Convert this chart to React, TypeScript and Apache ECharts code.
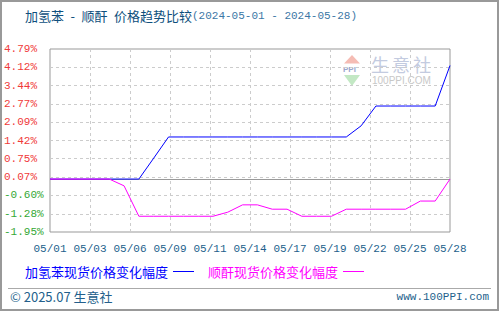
import React, { useEffect, useRef } from "react";
import * as echarts from "echarts";

const dates = [
  "05/01", "05/02", "05/03", "05/04", "05/05", "05/06", "05/07", "05/08", "05/09", "05/10",
  "05/11", "05/12", "05/13", "05/14", "05/15", "05/16", "05/17", "05/18", "05/19", "05/20",
  "05/21", "05/22", "05/23", "05/24", "05/25", "05/26", "05/27", "05/28",
];
const benzeneChange = [
  0, 0, 0, 0, 0, 0, 0, 0.77, 1.55, 1.55,
  1.55, 1.55, 1.55, 1.55, 1.55, 1.55, 1.55, 1.55, 1.55, 1.55,
  1.55, 1.96, 2.69, 2.69, 2.69, 2.69, 2.69, 4.18,
];
const anhydrideChange = [
  0, 0, 0, 0, 0, -0.25, -1.37, -1.37, -1.37, -1.37,
  -1.37, -1.37, -1.22, -0.95, -0.95, -1.11, -1.11, -1.37, -1.37, -1.37,
  -1.11, -1.11, -1.11, -1.11, -1.11, -0.81, -0.81, 0,
];
const yTicks = [-1.95, -1.28, -0.6, 0.07, 0.75, 1.42, 2.09, 2.77, 3.44, 4.12, 4.79];
const xTickLabels = ["05/01", "05/03", "05/06", "05/09", "05/11", "05/14", "05/17", "05/19", "05/22", "05/25", "05/28"];
const seriesNames = ["加氢苯现货价格变化幅度", "顺酐现货价格变化幅度"];
const seriesColors = ["#0000ff", "#ff00ff"];
const watermarkChars = ["生", "意", "社"];

const CJK = '"Noto Sans CJK SC", sans-serif';
const MONO = '"Liberation Mono", "DejaVu Sans Mono", monospace';
const TEXT_BLUE = "#235f8c";

export default function App() {
  const ref = useRef<HTMLDivElement>(null);
  useEffect(() => {
    if (!ref.current) return;
    const chart = echarts.init(ref.current, null, { renderer: "svg" });
    const xStep = (dates.length - 1) / (xTickLabels.length - 1);
    const mk = (vals: number[]) => vals.map((v, i) => [i, v]);
    chart.setOption({
      animation: false,
      backgroundColor: "#ffffff",
      title: {
        text: "{a|加氢苯\u2002-\u2002顺酐\u2002价格趋势比较}{b|(2024-05-01 - 2024-05-28)}",
        left: 25,
        top: 9,
        padding: 0,
        textStyle: {
          fontWeight: "normal",
          rich: {
            a: { fontFamily: CJK, fontSize: 13, fontWeight: "normal", color: "#0e4f7d" },
            b: { fontFamily: MONO, fontSize: 11, fontWeight: "normal", color: "#3b77a6" },
          },
        },
      },
      grid: {
        left: 50,
        right: 50,
        top: 49,
        bottom: 80,
        show: true,
        borderColor: "#999999",
        borderWidth: 1,
        backgroundColor: "transparent",
      },
      legend: {
        left: 25,
        top: 265,
        padding: 0,
        align: "right",
        icon: "rect",
        itemWidth: 21,
        itemHeight: 1,
        itemGap: 14,
        data: seriesNames.map((n, i) => ({
          name: n,
          textStyle: { color: seriesColors[i], fontFamily: CJK, fontSize: 13 },
        })),
      },
      xAxis: {
        type: "value",
        min: 0,
        max: dates.length - 1,
        interval: xStep,
        axisLine: { show: false },
        axisTick: { show: false },
        axisLabel: {
          margin: 11,
          color: TEXT_BLUE,
          fontFamily: MONO,
          fontSize: 11,
          showMinLabel: true,
          showMaxLabel: true,
          formatter: (v: number) => xTickLabels[Math.round(v / xStep)] ?? "",
        },
        splitLine: {
          show: true,
          showMinLine: false,
          showMaxLine: false,
          lineStyle: { color: "#cccccc", type: [3, 3], width: 1 },
        },
      },
      yAxis: {
        type: "value",
        min: yTicks[0],
        max: yTicks[yTicks.length - 1],
        axisLine: { show: false },
        axisTick: { show: false, customValues: yTicks },
        axisLabel: {
          customValues: yTicks,
          align: "left",
          margin: 46,
          fontFamily: MONO,
          fontSize: 11,
          formatter: (v: number) => v.toFixed(2) + "%",
          color: (v: any) => (Number(v) >= 0 ? "#f03a3a" : "#35a835"),
        },
        splitLine: {
          show: true,
          showMinLine: false,
          showMaxLine: false,
          lineStyle: { color: "#cccccc", type: [3, 3], width: 1 },
        },
      },
      series: [
        {
          name: seriesNames[0],
          type: "line",
          data: mk(benzeneChange),
          symbol: "none",
          color: seriesColors[0],
          lineStyle: { width: 1, color: seriesColors[0] },
          markLine: {
            silent: true,
            z: 1,
            symbol: ["none", "none"],
            label: { show: false },
            lineStyle: { color: "#999999", type: "solid", width: 1 },
            data: [{ yAxis: 0 }],
          },
        },
        {
          name: seriesNames[1],
          type: "line",
          data: mk(anhydrideChange),
          symbol: "none",
          color: seriesColors[1],
          lineStyle: { width: 1, color: seriesColors[1] },
        },
      ],
      graphic: [
        {
          type: "rect",
          shape: { x: 1, y: 1, width: 497, height: 309 },
          style: { fill: "none", stroke: "#999999", lineWidth: 2 },
          silent: true,
        },
        {
          type: "line",
          shape: { x1: 8, y1: 288.5, x2: 491, y2: 288.5 },
          style: { stroke: "#aaaaaa", lineWidth: 1 },
          silent: true,
        },
        {
          type: "text",
          left: 10,
          top: 290,
          style: { text: "© 2025.07 生意社", fill: TEXT_BLUE, font: `13px ${CJK}` },
          silent: true,
        },
        {
          type: "text",
          right: 11,
          top: 291,
          style: { text: "www.100PPI.com", fill: TEXT_BLUE, font: `11px ${MONO}` },
          silent: true,
        },
        {
          type: "polygon",
          silent: true,
          z: 0,
          shape: { points: [[344, 63.5], [352, 55], [360, 63.5]] },
          style: { fill: "#f5bcb4" },
        },
        {
          type: "text",
          silent: true,
          z: 0,
          left: 343,
          top: 65,
          style: {
            text: "PPI",
            fill: "#9aa6cc",
            font: 'bold 8px "Liberation Sans", sans-serif',
          },
        },
        {
          type: "polygon",
          silent: true,
          z: 0,
          shape: { points: [[344, 75], [360, 75], [352, 86]] },
          style: { fill: "#c3e8c4" },
        },
        ...watermarkChars.map((c, i) => ({
          type: "text",
          silent: true,
          z: 0,
          left: 371 + i * 21,
          top: 55,
          style: {
            text: c,
            fill: "#c3cbe0",
            font: '18px "Noto Sans CJK SC", sans-serif',
          },
        })),
        {
          type: "text",
          silent: true,
          z: 0,
          left: 372,
          top: 75,
          style: {
            text: "100PPI.COM",
            fill: "#c8c8c8",
            font: '10px "Liberation Sans", sans-serif',
          },
        },
      ],
    });
    return () => chart.dispose();
  }, []);
  return (
    <div
      ref={ref}
      style={{ position: "absolute", left: 0, top: 0, width: 500, height: 312 }}
    />
  );
}
